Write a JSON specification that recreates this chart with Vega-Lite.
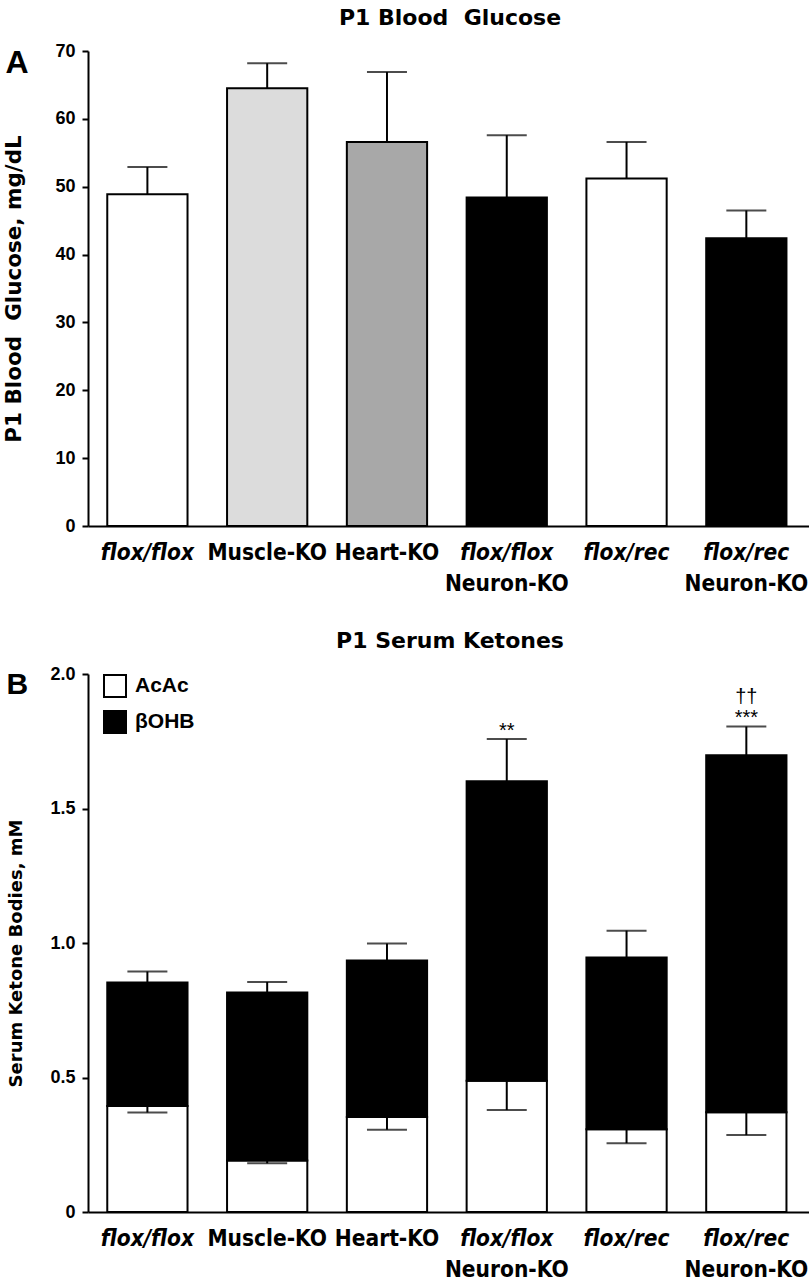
{
  "$schema": "https://vega.github.io/schema/vega-lite/v6.json",
  "background": "white",
  "padding": {"left": 3, "top": 7, "right": 0, "bottom": 0},
  "spacing": 35,
  "resolve": {"scale": {"fill": "independent"}, "legend": {"fill": "independent"}},
  "config": {
    "view": {"stroke": null},
    "axis": {
      "domainColor": "black", "domainWidth": 2, "tickColor": "black", "tickWidth": 2, "tickSize": 6,
      "labelColor": "black", "titleColor": "black", "grid": false,
      "labelFont": "Liberation Sans", "labelFontWeight": "bold", "labelFontSize": 18,
      "titleFont": "DejaVu Sans", "titleFontWeight": "bold"
    },
    "title": {"font": "DejaVu Sans", "fontWeight": "bold", "fontSize": 22, "color": "black", "anchor": "middle", "frame": "group", "offset": 12},
    "legend": {"padding": 0}
  },
  "vconcat": [
    {
      "width": 724,
      "height": 475,
      "title": {"text": "P1 Blood\u00a0 Glucose"},
      "data": {"values": [
        {"group": "flox/flox", "glucose": 48.9, "err": 52.9},
        {"group": "Muscle-KO", "glucose": 64.5, "err": 68.2},
        {"group": "Heart-KO", "glucose": 56.6, "err": 66.9},
        {"group": "flox/flox Neuron-KO", "glucose": 48.4, "err": 57.6},
        {"group": "flox/rec", "glucose": 51.2, "err": 56.6},
        {"group": "flox/rec Neuron-KO", "glucose": 42.4, "err": 46.5}
      ]},
      "resolve": {"axis": {"x": "independent", "y": "independent"}},
      "layer": [
        {
          "mark": {"type": "bar", "stroke": "black", "strokeWidth": 2},
          "encoding": {
            "x": {"field": "group", "type": "nominal", "sort": null,
              "scale": {"paddingInner": 0.33, "paddingOuter": 0.187, "align": 0.43},
              "axis": {"orient": "bottom", "title": null, "ticks": false, "labelAngle": 0, "labelPadding": 15,
                "labelOverlap": false, "labelLimit": 0,
                "labelFont": "DejaVu Sans Condensed", "labelFontSize": 22.5,
                "labelExpr": "replace(datum.value, ' Neuron-KO', '')",
                "labelFontStyle": {"condition": {"test": "indexof(datum.value, 'flox') >= 0", "value": "italic"}, "value": "normal"}}},
            "y": {"field": "glucose", "type": "quantitative", "scale": {"domain": [0, 70]},
              "axis": {"orient": "left", "values": [0, 10, 20, 30, 40, 50, 60, 70], "labelPadding": 7,
                "title": "P1 Blood\u00a0 Glucose, mg/dL", "titleFontSize": 21.5, "titlePadding": 29}},
            "fill": {"field": "group", "type": "nominal", "legend": null,
              "scale": {"domain": ["flox/flox", "Muscle-KO", "Heart-KO", "flox/flox Neuron-KO", "flox/rec", "flox/rec Neuron-KO"],
                "range": ["#ffffff", "#dcdcdc", "#a8a8a8", "#000000", "#ffffff", "#000000"]}}
          }
        },
        {
          "mark": {"type": "rule", "color": "black", "strokeWidth": 2},
          "encoding": {
            "x": {"field": "group", "type": "nominal", "sort": null,
              "axis": {"orient": "bottom", "title": null, "domain": false, "ticks": false, "labelAngle": 0, "labelPadding": 46,
                "labelOverlap": false, "labelLimit": 0,
                "labelFont": "DejaVu Sans Condensed", "labelFontSize": 22.5,
                "labelExpr": "indexof(datum.value, 'Neuron') >= 0 ? 'Neuron-KO' : ''"}},
            "y": {"field": "glucose", "type": "quantitative",
              "axis": {"orient": "left", "labels": false, "ticks": false, "domain": false,
                "title": "A", "titleAngle": 0, "titleX": -83, "titleY": 21, "titleAlign": "left", "titleBaseline": "alphabetic",
                "titleFont": "Liberation Sans", "titleFontSize": 32}},
            "y2": {"field": "err"}
          }
        },
        {
          "mark": {"type": "tick", "color": "black", "thickness": 2, "size": 40},
          "encoding": {
            "x": {"field": "group", "type": "nominal", "sort": null, "axis": null},
            "y": {"field": "err", "type": "quantitative", "axis": null}
          }
        }
      ]
    },
    {
      "width": 724,
      "height": 538,
      "title": {"text": "P1 Serum Ketones"},
      "data": {"values": [
        {"group": "flox/flox", "component": "AcAc", "low": 0, "high": 0.394, "err": 0.37, "sig": "", "sig2": ""},
        {"group": "flox/flox", "component": "βOHB", "low": 0.394, "high": 0.853, "err": 0.894, "sig": "", "sig2": ""},
        {"group": "Muscle-KO", "component": "AcAc", "low": 0, "high": 0.191, "err": 0.181, "sig": "", "sig2": ""},
        {"group": "Muscle-KO", "component": "βOHB", "low": 0.191, "high": 0.816, "err": 0.855, "sig": "", "sig2": ""},
        {"group": "Heart-KO", "component": "AcAc", "low": 0, "high": 0.353, "err": 0.306, "sig": "", "sig2": ""},
        {"group": "Heart-KO", "component": "βOHB", "low": 0.353, "high": 0.935, "err": 0.998, "sig": "", "sig2": ""},
        {"group": "flox/flox Neuron-KO", "component": "AcAc", "low": 0, "high": 0.488, "err": 0.379, "sig": "", "sig2": ""},
        {"group": "flox/flox Neuron-KO", "component": "βOHB", "low": 0.488, "high": 1.601, "err": 1.758, "sig": "**", "sig2": ""},
        {"group": "flox/rec", "component": "AcAc", "low": 0, "high": 0.308, "err": 0.256, "sig": "", "sig2": ""},
        {"group": "flox/rec", "component": "βOHB", "low": 0.308, "high": 0.946, "err": 1.046, "sig": "", "sig2": ""},
        {"group": "flox/rec Neuron-KO", "component": "AcAc", "low": 0, "high": 0.371, "err": 0.286, "sig": "", "sig2": ""},
        {"group": "flox/rec Neuron-KO", "component": "βOHB", "low": 0.371, "high": 1.698, "err": 1.805, "sig": "***", "sig2": "††"}
      ]},
      "resolve": {"axis": {"x": "independent", "y": "independent"}},
      "layer": [
        {
          "mark": {"type": "bar", "stroke": "black", "strokeWidth": 2},
          "encoding": {
            "x": {"field": "group", "type": "nominal", "sort": null,
              "scale": {"paddingInner": 0.33, "paddingOuter": 0.187, "align": 0.43},
              "axis": {"orient": "bottom", "title": null, "ticks": false, "labelAngle": 0, "labelPadding": 15,
                "labelOverlap": false, "labelLimit": 0,
                "labelFont": "DejaVu Sans Condensed", "labelFontSize": 22.5,
                "labelExpr": "replace(datum.value, ' Neuron-KO', '')",
                "labelFontStyle": {"condition": {"test": "indexof(datum.value, 'flox') >= 0", "value": "italic"}, "value": "normal"}}},
            "y": {"field": "low", "type": "quantitative", "scale": {"domain": [0, 2]},
              "axis": {"orient": "left", "values": [0, 0.5, 1, 1.5, 2], "labelPadding": 7,
                "labelExpr": "datum.value === 0 ? '0' : format(datum.value, '.1f')",
                "title": "Serum Ketone Bodies, mM", "titleFontSize": 18, "titlePadding": 24, "titleY": 279}},
            "y2": {"field": "high"},
            "fill": {"field": "component", "type": "nominal",
              "scale": {"domain": ["AcAc", "βOHB"], "range": ["#ffffff", "#000000"]},
              "legend": {"title": null, "orient": "none", "legendX": 15, "legendY": 0,
                "symbolType": "square", "symbolSize": 484, "symbolStrokeColor": "black", "symbolStrokeWidth": 2,
                "labelFont": "Liberation Sans", "labelFontWeight": "bold", "labelFontSize": 21, "labelColor": "black",
                "labelOffset": 8, "rowPadding": 6}}
          }
        },
        {
          "mark": {"type": "rule", "color": "black", "strokeWidth": 2},
          "encoding": {
            "x": {"field": "group", "type": "nominal", "sort": null,
              "axis": {"orient": "bottom", "title": null, "domain": false, "ticks": false, "labelAngle": 0, "labelPadding": 46,
                "labelOverlap": false, "labelLimit": 0,
                "labelFont": "DejaVu Sans Condensed", "labelFontSize": 22.5,
                "labelExpr": "indexof(datum.value, 'Neuron') >= 0 ? 'Neuron-KO' : ''"}},
            "y": {"field": "high", "type": "quantitative",
              "axis": {"orient": "left", "labels": false, "ticks": false, "domain": false,
                "title": "B", "titleAngle": 0, "titleX": -82, "titleY": 19, "titleAlign": "left", "titleBaseline": "alphabetic",
                "titleFont": "Liberation Sans", "titleFontSize": 30}},
            "y2": {"field": "err"}
          }
        },
        {
          "mark": {"type": "tick", "color": "black", "thickness": 2, "size": 40},
          "encoding": {
            "x": {"field": "group", "type": "nominal", "sort": null, "axis": null},
            "y": {"field": "err", "type": "quantitative", "axis": null}
          }
        },
        {
          "transform": [{"filter": "datum.sig != ''"}],
          "mark": {"type": "text", "font": "Liberation Sans", "fontSize": 20, "baseline": "alphabetic", "dy": -2, "color": "black"},
          "encoding": {
            "x": {"field": "group", "type": "nominal", "sort": null, "axis": null},
            "y": {"field": "err", "type": "quantitative", "axis": null},
            "text": {"field": "sig"}
          }
        },
        {
          "transform": [{"filter": "datum.sig2 != ''"}],
          "mark": {"type": "text", "font": "Liberation Sans", "fontSize": 20, "baseline": "alphabetic", "dy": -23, "color": "black"},
          "encoding": {
            "x": {"field": "group", "type": "nominal", "sort": null, "axis": null},
            "y": {"field": "err", "type": "quantitative", "axis": null},
            "text": {"field": "sig2"}
          }
        }
      ]
    }
  ]
}
